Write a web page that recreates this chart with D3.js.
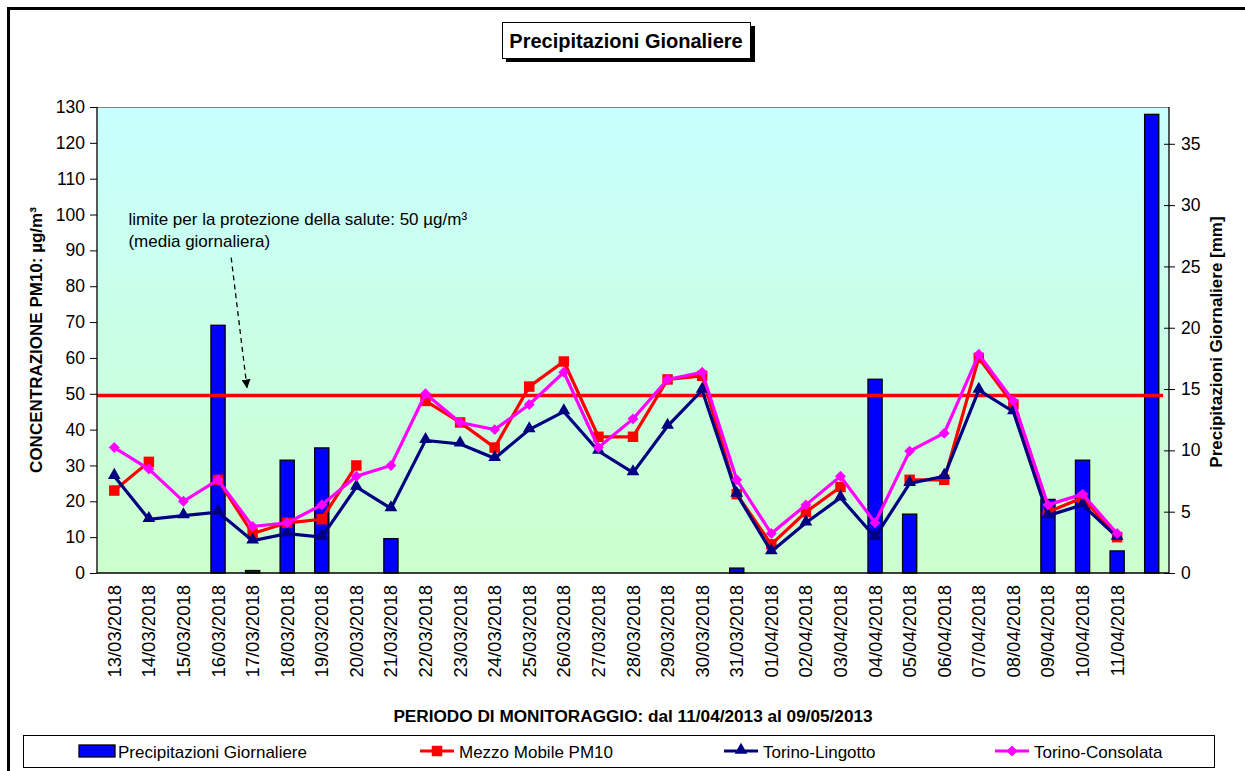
<!DOCTYPE html>
<html>
<head>
<meta charset="utf-8">
<script src="https://cdn.jsdelivr.net/npm/d3@7"></script>
<style>
  body { margin: 0; background: #fff; }
  svg { display: block; font-family: "Liberation Sans", Arial, sans-serif; }
</style>
</head>
<body>
<svg id="chart"></svg>
<script>

// categorie (l'ultima barra non ha etichetta)
var giorni = ['13/03/2018','14/03/2018','15/03/2018','16/03/2018','17/03/2018','18/03/2018',
  '19/03/2018','20/03/2018','21/03/2018','22/03/2018','23/03/2018','24/03/2018','25/03/2018',
  '26/03/2018','27/03/2018','28/03/2018','29/03/2018','30/03/2018','31/03/2018','01/04/2018',
  '02/04/2018','03/04/2018','04/04/2018','05/04/2018','06/04/2018','07/04/2018','08/04/2018',
  '09/04/2018','10/04/2018','11/04/2018',''];

// precipitazioni giornaliere [mm]
var pioggia = [0,0,0,20.2,0.2,9.2,10.2,0,2.8,0,0,0,0,0,0,0,0,0,0.4,0,0,0,15.8,4.8,0,0,0,6.0,9.2,1.8,37.4];

// PM10 [µg/m³]
var mezzoMobile = [23,31,null,26,11,14,15,30,null,48,42,35,52,59,38,38,54,55,22,8,17,24,null,26,26,60,47,17,21,10,null];
var lingotto    = [27,15,16,17,9,11,10,24,18,37,36,32,40,45,34,28,41,51,22,6,14,21,10,25,27,51,45,16,19,10,null];
var consolata   = [35,29,20,26,13,14,19,27,30,50,42,40,47,56,35,43,54,56,26,11,19,27,14,34,39,61,48,19,22,11,null];

var ticksSx = d3.range(0, 131, 10);
var ticksDx = d3.range(0, 36, 5);
var limite = 49.5;

var width = 1245;
var height = 771;

var X0 = 97, X1 = 1169, Y0 = 107, Y1 = 573;

var svg = d3.select('#chart').attr('width', width).attr('height', height);

var defs = svg.append('defs');
var grad = defs.append('linearGradient').attr('id', 'sfondo')
  .attr('x1', 0).attr('y1', 0).attr('x2', 0).attr('y2', 1);
grad.append('stop').attr('offset', '0%').attr('stop-color', '#C8FFFF');
grad.append('stop').attr('offset', '100%').attr('stop-color', '#CCFFCC');

var x = d3.scaleBand().domain(d3.range(giorni.length)).range([X0, X1]);
var xc = function(i){ return x(i) + x.bandwidth() / 2; };
var xi = d3.scaleLinear().domain([0, giorni.length - 1]).range([xc(0), xc(giorni.length - 1)]);
var y = d3.scaleLinear().domain([0, 130]).range([Y1, Y0]);
var y2 = d3.scaleLinear().domain([0, 38]).range([Y1, Y0]);

// cornice esterna
svg.append('rect')
  .attr('x', 8.5).attr('y', 8.5).attr('width', 1300).attr('height', 800)
  .attr('fill', 'none').attr('stroke', '#000').attr('stroke-width', 3);

// titolo con ombra
var tg = svg.append('g');
tg.append('rect').attr('x', 506).attr('y', 26).attr('width', 249).attr('height', 36).attr('fill', '#000');
tg.append('rect').attr('x', 502.5).attr('y', 22.5).attr('width', 248).attr('height', 36)
  .attr('fill', '#fff').attr('stroke', '#000').attr('stroke-width', 1);
tg.append('text').attr('x', 626).attr('y', 47.5).attr('text-anchor', 'middle')
  .attr('font-size', 20).attr('font-weight', 'bold').text('Precipitazioni Gionaliere');

// area del grafico
svg.append('rect')
  .attr('x', X0).attr('y', Y0).attr('width', X1 - X0).attr('height', Y1 - Y0)
  .attr('fill', 'url(#sfondo)');
svg.append('line').attr('x1', X0).attr('x2', X1).attr('y1', Y0 + 0.5).attr('y2', Y0 + 0.5)
  .attr('stroke', '#808080');

// barre pioggia
var bw = x.bandwidth() * 0.41;
var barre = pioggia.map(function(v, i){ return { i: i, v: v }; })
  .filter(function(d){ return d.v > 0; });
svg.append('g').selectAll('rect')
  .data(barre)
  .enter()
  .append('rect')
  .attr('x', function(d){ return xc(d.i) - bw / 2; })
  .attr('y', function(d){ return y2(d.v); })
  .attr('width', bw)
  .attr('height', function(d){ return y2(0) - y2(d.v); })
  .attr('fill', '#0000FF')
  .attr('stroke', '#000')
  .attr('stroke-width', 1.3);

// linea del limite
svg.append('line')
  .attr('x1', X0).attr('x2', X1 - 6)
  .attr('y1', y(limite)).attr('y2', y(limite))
  .attr('stroke', '#FF0000').attr('stroke-width', 3.5);

// assi
var axSx = svg.append('g').attr('transform', 'translate(' + X0 + ',0)')
  .call(d3.axisLeft(y).tickValues(ticksSx).tickSize(7).tickPadding(5));
var axDx = svg.append('g').attr('transform', 'translate(' + X1 + ',0)')
  .call(d3.axisRight(y2).tickValues(ticksDx).tickSize(6).tickPadding(6));
axDx.selectAll('.tick line').attr('x1', -5);
[axSx, axDx].forEach(function(a){
  a.select('.domain').attr('stroke', '#000').attr('stroke-width', 1.3);
  a.selectAll('.tick line').attr('stroke', '#000');
  a.selectAll('.tick text').attr('font-size', 17.5).attr('fill', '#000')
    .attr('font-family', '"Liberation Sans", Arial, sans-serif');
});
axSx.select('.domain').attr('d', 'M0,' + Y0 + 'V' + Y1);
axDx.select('.domain').attr('d', 'M0,' + Y0 + 'V' + Y1);

svg.append('line').attr('x1', X0).attr('x2', X1).attr('y1', Y1).attr('y2', Y1)
  .attr('stroke', '#000').attr('stroke-width', 1.3);

// etichette date
svg.append('g').selectAll('text')
  .data(giorni)
  .enter()
  .append('text')
  .attr('transform', function(d, i){ return 'translate(' + (xc(i) + 6.5) + ',' + (Y1 + 12) + ') rotate(-90)'; })
  .attr('text-anchor', 'end')
  .attr('font-size', 18.5)
  .text(function(d){ return d; });

// serie PM10
var serie = [
  { nome: 'Mezzo Mobile PM10', valori: mezzoMobile, colore: '#FF0000', simbolo: 'quadrato' },
  { nome: 'Torino-Lingotto', valori: lingotto, colore: '#000080', simbolo: 'triangolo' },
  { nome: 'Torino-Consolata', valori: consolata, colore: '#FF00FF', simbolo: 'rombo' }
];

function disegnaSimbolo(g, tipo, colore){
  if (tipo === 'quadrato') {
    g.append('path').attr('d', d3.symbol(d3.symbolSquare, 110)()).attr('fill', colore);
  } else if (tipo === 'triangolo') {
    g.append('path').attr('d', d3.symbol(d3.symbolTriangle, 70)()).attr('fill', colore)
      .attr('transform', 'translate(0,-1)');
  } else {
    g.append('path').attr('d', d3.symbol(d3.symbolSquare, 60)()).attr('fill', colore)
      .attr('transform', 'rotate(45)');
  }
}

var linea = d3.line()
  .defined(function(d){ return d != null; })
  .x(function(d, i){ return xc(i); })
  .y(function(d){ return y(d); });

serie.forEach(function(s){
  var g = svg.append('g');
  g.append('path')
    .attr('d', linea(s.valori))
    .attr('fill', 'none')
    .attr('stroke', s.colore)
    .attr('stroke-width', 3.2)
    .attr('stroke-linejoin', 'miter');
  s.valori.forEach(function(v, i){
    if (v == null) return;
    var m = g.append('g').attr('transform', 'translate(' + xc(i) + ',' + y(v) + ')');
    disegnaSimbolo(m, s.simbolo, s.colore);
  });
});

// annotazione
var nota = ['limite per la protezione della salute: 50 µg/m³', '(media giornaliera)'];
var notaPos = [0.41, 97.1];
svg.append('g').selectAll('text')
  .data(nota)
  .enter()
  .append('text')
  .attr('x', xi(notaPos[0]))
  .attr('y', function(d, i){ return y(notaPos[1]) + i * 22; })
  .attr('font-size', 17)
  .text(function(d){ return d; });

var frecciaDa = [3.38, 88];
var frecciaA = [3.84, 51.5];
defs.append('marker').attr('id', 'punta').attr('viewBox', '0 0 10 10')
  .attr('refX', 10).attr('refY', 5).attr('markerWidth', 9).attr('markerHeight', 9)
  .attr('markerUnits', 'userSpaceOnUse').attr('orient', 'auto')
  .append('path').attr('d', 'M0,0L10,5L0,10Z').attr('fill', '#000');
svg.append('line')
  .attr('x1', xi(frecciaDa[0])).attr('y1', y(frecciaDa[1]))
  .attr('x2', xi(frecciaA[0])).attr('y2', y(frecciaA[1]))
  .attr('stroke', '#000').attr('stroke-width', 1.3)
  .attr('stroke-dasharray', '5,4')
  .attr('marker-end', 'url(#punta)');

// titoli assi
svg.append('text')
  .attr('transform', 'translate(42,' + ((Y0 + Y1) / 2) + ') rotate(-90)')
  .attr('text-anchor', 'middle').attr('font-size', 17).attr('font-weight', 'bold')
  .text('CONCENTRAZIONE PM10: µg/m³');
svg.append('text')
  .attr('transform', 'translate(1222,' + ((Y0 + Y1) / 2 + 2) + ') rotate(-90)')
  .attr('text-anchor', 'middle').attr('font-size', 17).attr('font-weight', 'bold')
  .text('Precipitazioni Giornaliere [mm]');
svg.append('text')
  .attr('x', 633).attr('y', 722)
  .attr('text-anchor', 'middle').attr('font-size', 17.2).attr('font-weight', 'bold')
  .text('PERIODO DI MONITORAGGIO: dal 11/04/2013 al 09/05/2013');

// legenda
var leg = svg.append('g');
leg.append('rect').attr('x', 23.5).attr('y', 735.5).attr('width', 1191).attr('height', 32)
  .attr('fill', '#fff').attr('stroke', '#000');
var legX = [79, 420, 724, 995];
var voci = [{ nome: 'Precipitazioni Giornaliere', barra: true }].concat(serie);
voci.forEach(function(v, i){
  var g = leg.append('g').attr('transform', 'translate(' + legX[i] + ',751)');
  if (v.barra) {
    g.append('rect').attr('x', 0).attr('y', -6).attr('width', 36).attr('height', 12)
      .attr('fill', '#0000FF').attr('stroke', '#000').attr('stroke-width', 1.3);
  } else {
    g.append('line').attr('x1', 0).attr('x2', 34).attr('stroke', v.colore).attr('stroke-width', 3.2);
    var m = g.append('g').attr('transform', 'translate(17,0)');
    disegnaSimbolo(m, v.simbolo, v.colore);
  }
  g.append('text').attr('x', 39).attr('y', 6.5).attr('font-size', 17).text(v.nome);
});

</script>
</body>
</html>
